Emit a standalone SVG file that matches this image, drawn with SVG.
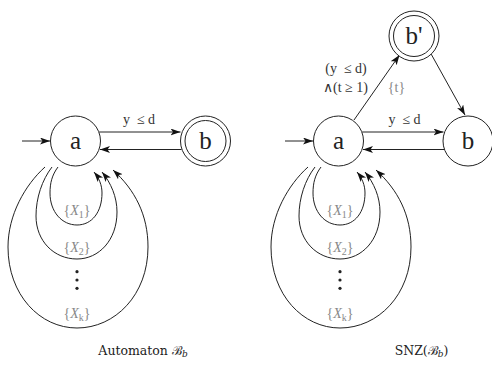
<svg xmlns="http://www.w3.org/2000/svg" width="492" height="372" viewBox="0 0 492 372">
<defs>
<marker id="ah" markerUnits="userSpaceOnUse" markerWidth="11" markerHeight="8" refX="10" refY="3.5" orient="auto">
<path d="M0,0 L10,3.5 L0,7 L2.5,3.5 z" fill="#111"/>
</marker>
</defs>
<style>
.n{fill:#fff;stroke:#222;stroke-width:1}
.nt{font-family:"Liberation Serif",serif;font-size:25px;fill:#222;text-anchor:middle}
.e{fill:none;stroke:#222;stroke-width:1;marker-end:url(#ah)}
.el{font-family:"Liberation Serif",serif;font-size:14px;fill:#333;text-anchor:middle}
.gl{font-family:"Liberation Serif",serif;font-size:14px;fill:#888;text-anchor:middle}
.cap{font-family:"DejaVu Serif",serif;font-size:12.5px;fill:#222;text-anchor:middle}
.dot{fill:#222}
</style>
<rect width="492" height="372" fill="#fff"/>
<g id="connectors">
<line class="e" x1="22" y1="141" x2="50" y2="141"/>
<line class="e" x1="99.2" y1="132" x2="180.5" y2="132"/>
<line class="e" x1="181.5" y1="149.5" x2="100" y2="149.5"/>
<path class="e" d="M58,167 C52,175 50,183 50,193 C50,212 62,225 77,225 C92,225 102,212 102,193 C102,185 99,178 94,172"/>
<path class="e" d="M52,167 C42,180 36,198 36,216 C36,241 54,259 77,259 C99,259 117,240 117,212 C117,197 111,183 102,172"/>
<path class="e" d="M45,167 C25,185 8,215 8,247 C8,295 40,328 77,328 C115,328 148,295 148,247 C148,215 135,190 113,170"/>
<line class="e" x1="285" y1="141" x2="313" y2="141"/>
<line class="e" x1="362.2" y1="132" x2="443.5" y2="132"/>
<line class="e" x1="444.5" y1="149.5" x2="363" y2="149.5"/>
<line class="e" x1="354" y1="120" x2="399.5" y2="55"/>
<line class="e" x1="430" y1="52" x2="465" y2="115"/>
<g transform="translate(263,0)">
<path class="e" d="M58,167 C52,175 50,183 50,193 C50,212 62,225 77,225 C92,225 102,212 102,193 C102,185 99,178 94,172"/>
<path class="e" d="M52,167 C42,180 36,198 36,216 C36,241 54,259 77,259 C99,259 117,240 117,212 C117,197 111,183 102,172"/>
<path class="e" d="M45,167 C25,185 8,215 8,247 C8,295 40,328 77,328 C115,328 148,295 148,247 C148,215 135,190 113,170"/>
</g>
</g>
<g id="labels">
<text class="el" x="139" y="124">y&#160; ≤ d</text>
<text class="el" x="404.5" y="124">y&#160; ≤ d</text>
<text class="el" x="346" y="72.5">(y&#160; ≤ d)</text>
<text class="el" x="345.5" y="91.5">∧(t ≥ 1)</text>
<text class="gl" x="396.5" y="92">{t}</text>
<text class="gl" x="77" y="215">{<tspan font-style="italic">X</tspan><tspan font-size="10" dy="3">1</tspan><tspan dy="-3">}</tspan></text>
<text class="gl" x="77" y="252">{<tspan font-style="italic">X</tspan><tspan font-size="10" dy="3">2</tspan><tspan dy="-3">}</tspan></text>
<text class="gl" x="77" y="318">{<tspan font-style="italic">X</tspan><tspan font-size="10" dy="3">k</tspan><tspan dy="-3">}</tspan></text>
<circle class="dot" cx="77" cy="271.7" r="1.6"/>
<circle class="dot" cx="77" cy="280" r="1.6"/>
<circle class="dot" cx="77" cy="288.3" r="1.6"/>
<text class="gl" x="340" y="215">{<tspan font-style="italic">X</tspan><tspan font-size="10" dy="3">1</tspan><tspan dy="-3">}</tspan></text>
<text class="gl" x="340" y="252">{<tspan font-style="italic">X</tspan><tspan font-size="10" dy="3">2</tspan><tspan dy="-3">}</tspan></text>
<text class="gl" x="340" y="318">{<tspan font-style="italic">X</tspan><tspan font-size="10" dy="3">k</tspan><tspan dy="-3">}</tspan></text>
<circle class="dot" cx="340" cy="271.7" r="1.6"/>
<circle class="dot" cx="340" cy="280" r="1.6"/>
<circle class="dot" cx="340" cy="288.3" r="1.6"/>
<text class="cap" x="143" y="355">Automaton ℬ<tspan font-style="italic" font-size="9" dy="2">b</tspan></text>
<text class="cap" x="421.5" y="355">SNZ(ℬ<tspan font-style="italic" font-size="9" dy="2">b</tspan><tspan dy="-2">)</tspan></text>
</g>
<g id="node-a-left">
<circle class="n" cx="75.5" cy="141" r="25"/>
<text class="nt" x="75.5" y="149">a</text>
</g>
<g id="node-b-left">
<circle class="n" cx="205.5" cy="141" r="25"/>
<circle class="n" cx="205.5" cy="141" r="20.5"/>
<text class="nt" x="205.5" y="149">b</text>
</g>
<g id="node-a-right">
<circle class="n" cx="338.5" cy="141" r="25"/>
<text class="nt" x="338.5" y="149">a</text>
</g>
<g id="node-b-right">
<circle class="n" cx="468" cy="141" r="25"/>
<text class="nt" x="468" y="149">b</text>
</g>
<g id="node-bprime">
<circle class="n" cx="414" cy="36" r="25"/>
<circle class="n" cx="414" cy="36" r="20.5"/>
<text class="nt" x="414" y="44">b'</text>
</g>
</svg>
